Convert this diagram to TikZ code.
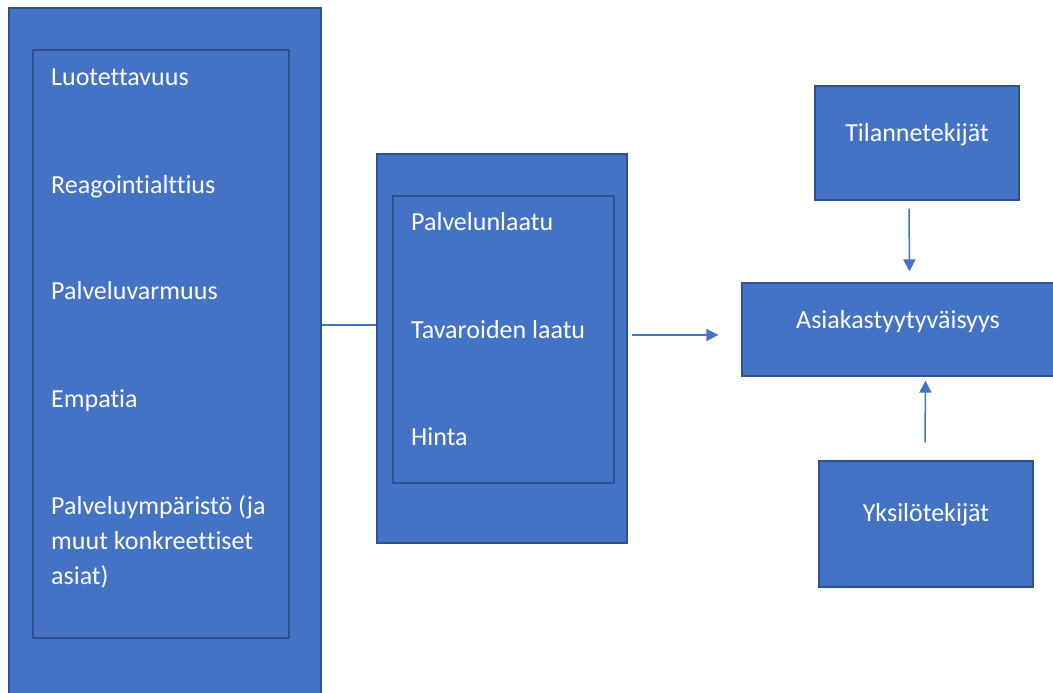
\documentclass[tikz,border=0pt]{standalone}
\usepackage{fontspec}
\setmainfont{Carlito}[Ligatures={NoCommon}]
\usetikzlibrary{arrows.meta,positioning}
\definecolor{boxblue}{HTML}{4472C4}
\definecolor{boxedge}{HTML}{2F528F}

\begin{document}
\begin{tikzpicture}[x=1pt, y=-1pt,
  box/.style={draw=boxedge, fill=boxblue, line width=1.2pt, inner sep=0pt},
  txt/.style={text=white, font=\fontsize{26}{35}\selectfont, inner sep=0pt},
  link/.style={draw=boxblue, line width=1.5pt},
  arrow/.style={link, -{Triangle[length=12pt, width=12pt]}}]

  \useasboundingbox (0,0) rectangle (1053,693);
  \clip (0,0) rectangle (1053,693);

  % Left block
  \node[box, minimum width=312pt, minimum height=692pt] (L1) at (165,354) {};
  \node[box, minimum width=256pt, minimum height=588pt] (L2) at (161,344) {};
  \node[txt, anchor=base west] (t1) at (51,85) {Luotettavuus};
  \node[txt, anchor=base west] (t2) at (51,193) {Reagointialttius};
  \node[txt, anchor=base west] (t3) at (51,299) {Palveluvarmuus};
  \node[txt, anchor=base west] (t4) at (51,407) {Empatia};
  \node[txt, anchor=base west, align=left] (t5) at (51,584) {Palveluympäristö (ja\\muut konkreettiset\\asiat)};

  % Middle block
  \node[box, minimum width=250pt, minimum height=389pt] (M1) at (502,348.5) {};
  \node[box, minimum width=221pt, minimum height=287pt] (M2) at (503.5,339.5) {};
  \node[txt, anchor=base west] (m1) at (411,230) {Palvelunlaatu};
  \node[txt, anchor=base west] (m2) at (411,338) {Tavaroiden laatu};
  \node[txt, anchor=base west] (m3) at (411,445) {Hinta};

  % Right blocks
  \node[box, minimum width=312pt, minimum height=93pt] (S) at (898,329.5) {};
  \node[box, minimum width=204pt, minimum height=114pt] (T) at (917,143) {};
  \node[box, minimum width=214pt, minimum height=126pt] (Y) at (926,524) {};
  \node[txt, anchor=base] (s1) at ([yshift=1.5pt]S.center) {Asiakastyytyväisyys};
  \node[txt, anchor=base] (s2) at ([yshift=2pt]T.center) {Tilannetekijät};
  \node[txt, anchor=base] (s3) at ([yshift=3pt]Y.center) {Yksilötekijät};

  % Connectors
  \draw[link] (L1.east |- M1.west) ++(0,-23.5) coordinate (j1) -- ([yshift=23.5pt]M1.west);
  \draw[arrow] ([shift={(4pt,13.5pt)}]M1.east) -- ([shift={(-23pt,-5.5pt)}]S.west);
  \draw[arrow] ([shift={(-8pt,-8pt)}]T.south) -- ([shift={(11.5pt,11pt)}]S.north);
  \draw[arrow] ([shift={(-1pt,18pt)}]Y.north) -- ([shift={(27.5pt,-4pt)}]S.south);

\end{tikzpicture}
\end{document}
